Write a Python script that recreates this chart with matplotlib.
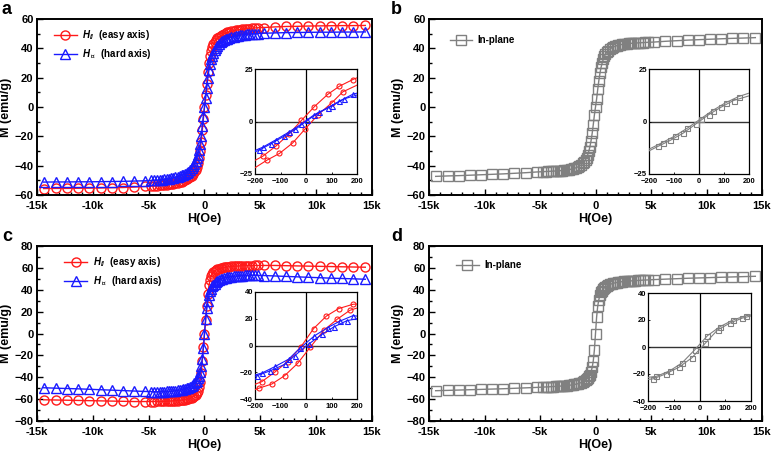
import matplotlib
matplotlib.use('Agg')
import matplotlib.pyplot as plt
import numpy as np
from matplotlib.ticker import MultipleLocator

plt.rcParams['font.family'] = ['Liberation Sans', 'DejaVu Sans']
plt.rcParams['font.weight'] = 'bold'
plt.rcParams['axes.labelweight'] = 'bold'
plt.rcParams['mathtext.fontset'] = 'custom'
plt.rcParams['mathtext.it'] = 'Liberation Sans:italic:bold'
plt.rcParams['mathtext.rm'] = 'Liberation Sans:bold'
plt.rcParams['mathtext.bf'] = 'Liberation Sans:bold'
plt.rcParams['mathtext.fallback'] = 'stixsans'

RED = '#ff1a1a'
BLUE = '#1a1aff'
GRAY = '#808080'

# ---- main loops: field values of the positive half (Oe) and M
# (the negative half is the odd mirror of it, the two sweeps overlap at this scale)
h_pos = [0, 100, 200, 300, 400, 500, 600, 700, 800, 900, 1000,
         1150, 1300, 1450, 1600, 1750, 1900, 2050, 2200,
         2400, 2600, 2800, 3000, 3200, 3400, 3600, 3800, 4000,
         4250, 4500, 4750,
         5300, 6300, 7300, 8300, 9300, 10300, 11300, 12300, 13300, 14400]

m_a_easy = [0, 8, 16, 24, 30, 35, 38.5, 41, 43, 44.5, 45.5,
            46.8, 47.8, 48.6, 49.3, 49.9, 50.4, 50.8, 51.2,
            51.6, 52.0, 52.3, 52.6, 52.8, 53.0, 53.2, 53.4, 53.5,
            53.7, 53.9, 54.0,
            54.2, 54.6, 54.9, 55.0, 55.2, 55.3, 55.4, 55.5, 55.5, 55.6]
m_a_hard = [0, 6, 13, 20, 25.5, 29.5, 32.5, 35, 37, 38.6, 40,
            41.6, 42.9, 44, 44.9, 45.6, 46.2, 46.7, 47.1,
            47.6, 48.0, 48.4, 48.7, 49.0, 49.2, 49.4, 49.6, 49.8,
            49.9, 50.0, 50.1,
            50.3, 50.5, 50.7, 50.8, 50.9, 51.0, 51.0, 51.1, 51.1, 51.2]
m_b = [0, 5.5, 12, 18, 23, 27, 30, 32.5, 34.5, 36, 37.2,
       38.5, 39.5, 40.3, 40.9, 41.4, 41.8, 42.1, 42.4,
       42.7, 42.9, 43.1, 43.3, 43.4, 43.5, 43.6, 43.7, 43.8,
       43.9, 44.0, 44.1,
       44.3, 44.8, 45.2, 45.6, 45.9, 46.2, 46.5, 46.8, 47.0, 47.3]
m_c_easy = [0, 12, 25, 36, 44, 49, 52.5, 54.5, 56, 57, 57.8,
            58.6, 59.2, 59.7, 60.1, 60.4, 60.7, 60.9, 61.1,
            61.3, 61.5, 61.6, 61.7, 61.8, 61.9, 62.0, 62.0, 62.1,
            62.1, 62.2, 62.2,
            62.2, 62.2, 62.0, 61.8, 61.6, 61.4, 61.2, 61.0, 60.8, 60.6]
m_c_hard = [0, 13, 23, 30, 35, 38.5, 41, 43, 44.5, 45.7, 46.7,
            47.8, 48.7, 49.4, 50.0, 50.5, 50.9, 51.3, 51.6,
            52.0, 52.3, 52.5, 52.7, 52.9, 53.0, 53.1, 53.2, 53.2,
            53.2, 53.2, 53.1,
            53.0, 52.6, 52.2, 51.8, 51.4, 51.0, 50.6, 50.3, 50.0, 49.6]
m_d = [0, 15, 25, 31, 35, 37.5, 39.3, 40.7, 41.8, 42.7, 43.4,
       44.2, 44.9, 45.4, 45.9, 46.3, 46.6, 46.9, 47.1,
       47.4, 47.6, 47.8, 48.0, 48.1, 48.3, 48.4, 48.5, 48.6,
       48.8, 48.9, 49.0,
       49.3, 49.7, 50.1, 50.5, 50.8, 51.1, 51.4, 51.7, 52.0, 52.3]

# ---- insets (low field loops), two branches each
ia_easy_h1 = [-200, -169, -118, -67, -18, 33, 85, 131, 184, 200]
ia_easy_m1 = [-18.5, -16.5, -11.7, -6.0, 0.5, 7.1, 12.9, 16.8, 20.0, 20.8]
ia_easy_h2 = [-200, -153, -104, -52, -3, 48, 102, 144, 200]
ia_easy_m2 = [-22, -18.4, -15.2, -10.2, -3.5, 3.3, 9.0, 14.1, 17.3]
ia_hard_h1 = [-200, -169, -118, -68, -18, 33, 85, 131, 184, 200]
ia_hard_m1 = [-13.8, -12.2, -8.7, -5.1, -1.2, 3.3, 6.5, 9.7, 13.0, 13.5]
ia_hard_h2 = [-200, -186, -136, -86, -42, 4, 52, 100, 150, 200]
ia_hard_m2 = [-14.4, -13.8, -10.5, -7.0, -3.8, 0.5, 4.3, 7.3, 10.8, 12.6]

ib_h1 = [-200, -165, -115, -64, -14, 38, 88, 138, 200]
ib_m1 = [-14, -11.9, -9.0, -5.6, -1.3, 3.2, 6.8, 10.0, 12.2]
ib_h2 = [-200, -146, -98, -47, 7, 54, 106, 159, 200]
ib_m2 = [-13.2, -10.0, -7.0, -3.2, 1.3, 5.2, 8.9, 11.9, 13.5]

ic_easy_h1 = [-200, -173, -123, -72, -20, 30, 80, 128, 184, 200]
ic_easy_m1 = [-29, -27, -20, -12, -1, 12.7, 22, 27.6, 30.8, 31]
ic_easy_h2 = [-200, -186, -134, -84, -33, 17, 70, 122, 172, 200]
ic_easy_m2 = [-33, -32, -28.8, -22.6, -13.4, -1.2, 11.4, 19.6, 26.3, 28]
ic_hard_h1 = [-200, -173, -121, -68, -25, 33, 85, 135, 184, 200]
ic_hard_m1 = [-22, -20.6, -15.7, -10.2, -2.2, 7.2, 13.4, 18.4, 22.3, 22.0]
ic_hard_h2 = [-200, -193, -140, -81, -45, 10, 63, 110, 161, 200]
ic_hard_m2 = [-23, -22.6, -18.9, -13.9, -7.7, 1.0, 8.4, 14.0, 18.6, 20]

id_h1 = [-200, -167, -116, -68, -19, 31, 79, 130, 181, 200]
id_m1 = [-22.5, -21.7, -17.7, -11.8, -2.2, 8.4, 15.0, 20.0, 23.2, 23.8]
id_h2 = [-200, -180, -132, -80, -29, 22, 70, 118, 166, 200]
id_m2 = [-24, -23.6, -20, -15, -7.9, 2.7, 12.6, 17.7, 21.4, 23]

x_ticks = [-15000, -10000, -5000, 0, 5000, 10000, 15000]
x_labels = ['-15k', '-10k', '-5k', '0', '5k', '10k', '15k']
in_xticks = [-200, -100, 0, 100, 200]


def full_loop(m_half):
    h = np.array(h_pos, dtype=float)
    m = np.array(m_half, dtype=float)
    return np.concatenate([-h[::-1], h[1:]]), np.concatenate([-m[::-1], m[1:]])


def style_main(ax, ylim):
    ax.set_xlim(-15000, 15000)
    ax.set_ylim(-ylim, ylim)
    ax.set_xticks(x_ticks)
    ax.set_xticklabels(x_labels)
    ax.xaxis.set_minor_locator(MultipleLocator(1000))
    ax.yaxis.set_major_locator(MultipleLocator(20))
    ax.yaxis.set_minor_locator(MultipleLocator(10))
    ax.tick_params(which='both', direction='in', top=False, right=False,
                   labelsize=8, width=1)
    ax.tick_params(axis='x', which='both', pad=4.5)
    ax.tick_params(axis='y', which='both', pad=2.5)
    ax.tick_params(which='major', length=4)
    ax.tick_params(which='minor', length=2)
    for s in ax.spines.values():
        s.set_linewidth(1.4)
    ax.set_xlabel('H(Oe)', fontsize=9, labelpad=1)
    ax.set_ylabel('M (emu/g)', fontsize=9, labelpad=2)


def style_inset(ax, ylim, yticks):
    ax.set_xlim(-200, 200)
    ax.set_ylim(-ylim, ylim)
    ax.set_xticks(in_xticks)
    ax.set_yticks(yticks)
    ax.tick_params(direction='in', length=1.5, width=0.6, labelsize=5.5)
    ax.tick_params(axis='x', pad=3)
    ax.tick_params(axis='y', pad=1.5)
    for s in ax.spines.values():
        s.set_linewidth(0.9)
    ax.axhline(0, color='#333333', lw=1.0, zorder=1)
    ax.axvline(0, color='black', lw=0.9, zorder=1)


def inset_branch(ax, h, m, color, marker):
    ax.plot(h, m, '-', color=color, lw=0.8, marker=marker, ms=3.6, mfc='none',
            mew=0.8, markevery=slice(1, len(h) - 1), zorder=3)


fig = plt.figure(figsize=(7.78, 4.54), dpi=100)

main_pos = {
    'a': [37 / 778, 1 - 195 / 454, 335 / 778, 176 / 454],
    'b': [429 / 778, 1 - 195 / 454, 333 / 778, 176 / 454],
    'c': [37 / 778, 1 - 421 / 454, 335 / 778, 175 / 454],
    'd': [429 / 778, 1 - 421 / 454, 333 / 778, 175 / 454],
}
inset_pos = {
    'a': [255 / 778, 1 - 174 / 454, 102 / 778, 105 / 454],
    'b': [649 / 778, 1 - 174 / 454, 100 / 778, 105 / 454],
    'c': [255 / 778, 1 - 399 / 454, 102 / 778, 107 / 454],
    'd': [648 / 778, 1 - 401 / 454, 103 / 778, 108 / 454],
}

easy_label = r'$H_{//}$  (easy axis)'
hard_label = r'$H_{\perp}$  (hard axis)'

# panel a
ax = fig.add_axes(main_pos['a'])
h, m = full_loop(m_a_easy)
ax.plot(h, m, '-o', color=RED, lw=1, ms=6.5, mfc='none', mew=1, label=easy_label)
h, m = full_loop(m_a_hard)
ax.plot(h, m, '-^', color=BLUE, lw=1, ms=6.5, mfc='none', mew=1, label=hard_label)
style_main(ax, 60)
ax.legend(loc='upper left', bbox_to_anchor=(0.04, 0.97), frameon=False, fontsize=7,
          handlelength=2.3, handletextpad=0.6, labelspacing=0.55, borderaxespad=0)
ins = fig.add_axes(inset_pos['a'])
inset_branch(ins, ia_easy_h1, ia_easy_m1, RED, 'o')
inset_branch(ins, ia_easy_h2, ia_easy_m2, RED, 'o')
inset_branch(ins, ia_hard_h1, ia_hard_m1, BLUE, '^')
inset_branch(ins, ia_hard_h2, ia_hard_m2, BLUE, '^')
style_inset(ins, 25, [-25, 0, 25])

# panel b
ax = fig.add_axes(main_pos['b'])
h, m = full_loop(m_b)
ax.plot(h, m, '-s', color=GRAY, lw=1, ms=6.5, mfc='none', mew=1, label='In-plane')
style_main(ax, 60)
ax.legend(loc='upper left', bbox_to_anchor=(0.05, 0.93), frameon=False, fontsize=7,
          handlelength=2.3, handletextpad=0.6, borderaxespad=0)
ins = fig.add_axes(inset_pos['b'])
inset_branch(ins, ib_h1, ib_m1, GRAY, 's')
inset_branch(ins, ib_h2, ib_m2, GRAY, 's')
style_inset(ins, 25, [-25, 0, 25])

# panel c
ax = fig.add_axes(main_pos['c'])
h, m = full_loop(m_c_easy)
ax.plot(h, m, '-o', color=RED, lw=1, ms=6.5, mfc='none', mew=1, label=easy_label)
h, m = full_loop(m_c_hard)
ax.plot(h, m, '-^', color=BLUE, lw=1, ms=6.5, mfc='none', mew=1, label=hard_label)
style_main(ax, 80)
ax.legend(loc='upper left', bbox_to_anchor=(0.07, 0.97), frameon=False, fontsize=7,
          handlelength=2.3, handletextpad=0.6, labelspacing=0.55, borderaxespad=0)
ins = fig.add_axes(inset_pos['c'])
inset_branch(ins, ic_easy_h1, ic_easy_m1, RED, 'o')
inset_branch(ins, ic_easy_h2, ic_easy_m2, RED, 'o')
inset_branch(ins, ic_hard_h1, ic_hard_m1, BLUE, '^')
inset_branch(ins, ic_hard_h2, ic_hard_m2, BLUE, '^')
style_inset(ins, 40, [-40, -20, 0, 20, 40])

# panel d
ax = fig.add_axes(main_pos['d'])
h, m = full_loop(m_d)
ax.plot(h, m, '-s', color=GRAY, lw=1, ms=6.5, mfc='none', mew=1, label='In-plane')
style_main(ax, 80)
ax.legend(loc='upper left', bbox_to_anchor=(0.07, 0.94), frameon=False, fontsize=7,
          handlelength=2.3, handletextpad=0.6, borderaxespad=0)
ins = fig.add_axes(inset_pos['d'])
inset_branch(ins, id_h1, id_m1, GRAY, 's')
inset_branch(ins, id_h2, id_m2, GRAY, 's')
style_inset(ins, 40, [-40, -20, 0, 20, 40])

# panel letters
for letter, x, y in [('a', 2, 1), ('b', 391, 1), ('c', 2, 228), ('d', 391, 228)]:
    fig.text(x / 778, 1 - y / 454, letter, fontsize=13, fontweight='bold',
             ha='left', va='top')

fig.savefig('out.png', dpi=100)
